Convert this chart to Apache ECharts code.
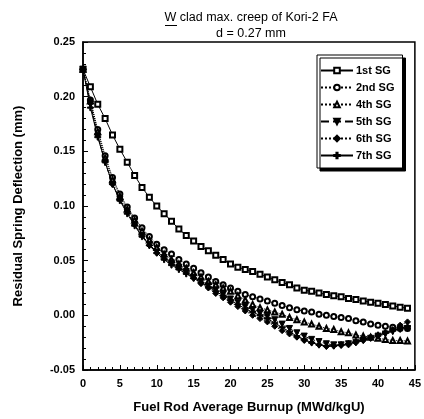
<!DOCTYPE html>
<html>
<head>
  <meta charset="utf-8" />
  <title>Residual spring deflection</title>
  <script src="https://cdn.jsdelivr.net/npm/echarts@6/dist/echarts.min.js"></script>
</head>
<style>
  html, body { margin: 0; padding: 0; background: #fff; }
  #chart { width: 424px; height: 419px; }
</style>
<body>
  <div id="chart"></div>
  <script>
    // burnup points (MWd/kgU), shared by all springs
    var burnup = [0,1,2,3,4,5,6,7,8,9,10,11,12,13,14,15,16,17,18,19,20,21,22,
      23,24,25,26,27,28,29,30,31,32,33,34,35,36,37,38,39,40,41,42,43,44];

    // residual spring deflection (mm)
    var sg1 = [0.225,0.209,0.193,0.180,0.165,0.152,0.140,0.128,0.117,0.108,0.100,0.093,0.086,0.079,0.073,
      0.068,0.063,0.059,0.055,0.051,0.047,0.044,0.042,0.040,0.0375,0.035,0.0325,0.030,0.028,0.025,
      0.023,0.022,0.0205,0.019,0.018,0.017,0.0155,0.0145,0.013,0.012,0.011,0.0098,0.0086,0.0075,0.0064];
    var sg2 = [0.225,0.197,0.170,0.146,0.126,0.111,0.099,0.089,0.080,0.072,0.065,0.060,0.056,0.051,0.047,
      0.043,0.039,0.035,0.031,0.028,0.025,0.022,0.019,0.017,0.015,0.013,0.011,0.009,0.007,0.005,
      0.004,0.003,0.001,0.000,-0.001,-0.002,-0.003,-0.005,-0.006,-0.008,-0.009,-0.010,-0.011,-0.012,-0.012];
    var sg4 = [0.225,0.196,0.168,0.144,0.124,0.109,0.097,0.087,0.077,0.069,0.062,0.056,0.051,0.047,0.043,
      0.039,0.035,0.031,0.028,0.025,0.022,0.018,0.014,0.010,0.007,0.005,0.003,0.001,-0.002,-0.004,
      -0.006,-0.008,-0.010,-0.012,-0.013,-0.015,-0.016,-0.018,-0.019,-0.020,-0.021,-0.022,-0.023,-0.023,-0.0235];
    var sg5 = [0.225,0.193,0.164,0.140,0.120,0.106,0.094,0.083,0.073,0.065,0.058,0.053,0.048,0.044,0.040,
      0.035,0.031,0.027,0.023,0.019,0.015,0.012,0.008,0.005,0.002,-0.001,-0.004,-0.008,-0.012,-0.016,
      -0.019,-0.022,-0.024,-0.026,-0.027,-0.027,-0.026,-0.025,-0.023,-0.021,-0.019,-0.017,-0.015,-0.013,-0.012];
    var sg6 = [0.225,0.194,0.165,0.141,0.120,0.106,0.095,0.083,0.073,0.064,0.057,0.052,0.047,0.043,0.039,
      0.034,0.029,0.025,0.020,0.016,0.012,0.008,0.004,0.000,-0.003,-0.006,-0.010,-0.014,-0.017,-0.020,
      -0.023,-0.025,-0.027,-0.0285,-0.028,-0.0275,-0.027,-0.025,-0.023,-0.021,-0.019,-0.016,-0.013,-0.009,-0.006];
    var sg7 = [0.225,0.190,0.163,0.140,0.120,0.105,0.093,0.082,0.072,0.064,0.057,0.051,0.046,0.042,0.038,
      0.034,0.030,0.026,0.022,0.018,0.014,0.010,0.006,0.003,0.000,-0.003,-0.007,-0.011,-0.015,-0.019,
      -0.022,-0.025,-0.027,-0.028,-0.028,-0.027,-0.026,-0.024,-0.022,-0.020,-0.018,-0.016,-0.014,-0.012,-0.010];

    var seriesNames = ['1st SG', '2nd SG', '4th SG', '5th SG', '6th SG', '7th SG'];
    var xTicks = [0, 5, 10, 15, 20, 25, 30, 35, 40, 45];

    function pairs(ys) {
      return burnup.map(function (x, i) { return [x, ys[i]]; });
    }

    var plusPath = 'path://M4,0h2v4h4v2h-4v4h-2v-4h-4v-2h4z';

    var styles = [
      { data: sg1, symbol: 'emptyRect', size: 5, line: 'solid' },
      { data: sg2, symbol: 'emptyCircle', size: 5, line: 'dotted' },
      { data: sg4, symbol: 'emptyTriangle', size: 5, line: 'dotted' },
      { data: sg5, symbol: 'triangle', size: 6, line: 'dashed', rotate: 180 },
      { data: sg6, symbol: 'diamond', size: 6, line: 'dotted' },
      { data: sg7, symbol: plusPath, size: 6, line: 'solid' }
    ];

    var myChart = echarts.init(document.getElementById('chart'), null, { renderer: 'canvas' });
    var font = 'Liberation Sans, Arial, sans-serif';

    myChart.setOption({
      animation: false,
      backgroundColor: '#fff',
      textStyle: { fontFamily: font, color: '#000' },
      graphic: [{
        type: 'text',
        x: 251, y: 10,
        style: {
          text: 'W clad max. creep of Kori-2 FA\nd = 0.27 mm',
          align: 'center',
          lineHeight: 16,
          font: '12.5px ' + font,
          fill: '#000'
        }
      }, {
        type: 'line',
        shape: { x1: 165, y1: 25.5, x2: 177, y2: 25.5 },
        style: { stroke: '#000', lineWidth: 1 }
      }],
      legend: {
        data: seriesNames,
        orient: 'vertical',
        left: 317,
        top: 55,
        itemWidth: 32,
        itemHeight: 7,
        itemGap: 6,
        padding: [10, 8, 7, 3],
        backgroundColor: '#fff',
        borderColor: '#000',
        borderWidth: 1,
        shadowColor: '#000',
        shadowBlur: 0,
        shadowOffsetX: 3,
        shadowOffsetY: 3,
        textStyle: { fontSize: 11, fontWeight: 'bold', color: '#000', fontFamily: font, padding: [0, 0, 0, -2] }
      },
      grid: {
        left: 83, right: 7, top: 42, bottom: 47,
        show: true,
        borderColor: '#000',
        borderWidth: 1.5,
        backgroundColor: 'transparent'
      },
      xAxis: {
        type: 'value',
        min: 0, max: 45, interval: 5,
        name: 'Fuel Rod Average Burnup (MWd/kgU)',
        nameLocation: 'middle',
        nameGap: 31,
        nameTextStyle: { fontSize: 13, fontWeight: 'bold', color: '#000', fontFamily: font },
        axisLine: { onZero: false, lineStyle: { color: '#000', width: 1.5 } },
        axisTick: { inside: true, length: 5, lineStyle: { color: '#000' } },
        minorTick: { show: true, splitNumber: 5, length: 3, lineStyle: { color: '#000' } },
        splitLine: { show: false },
        axisLabel: {
          margin: 8, fontSize: 11, fontWeight: 'bold', color: '#000', fontFamily: font,
          formatter: function (v) { return xTicks.indexOf(v) >= 0 ? String(v) : ''; }
        }
      },
      yAxis: {
        type: 'value',
        min: -0.05, max: 0.25, interval: 0.05,
        name: 'Residual Spring Deflection (mm)',
        nameLocation: 'middle',
        nameGap: 58,
        nameTextStyle: { fontSize: 13, fontWeight: 'bold', color: '#000', fontFamily: font },
        axisLine: { onZero: false, lineStyle: { color: '#000', width: 1.5 } },
        axisTick: { inside: true, length: 5, lineStyle: { color: '#000' } },
        minorTick: { show: true, splitNumber: 5, length: 3, lineStyle: { color: '#000' } },
        splitLine: { show: false },
        axisLabel: {
          margin: 8, fontSize: 11, fontWeight: 'bold', color: '#000', fontFamily: font,
          formatter: function (v) { return v.toFixed(2); }
        }
      },
      series: styles.map(function (s, i) {
        return {
          name: seriesNames[i],
          type: 'line',
          data: pairs(s.data),
          symbol: s.symbol,
          symbolSize: s.size,
          symbolRotate: s.rotate || 0,
          showAllSymbol: true,
          lineStyle: { color: '#000', width: 1, type: s.line },
          itemStyle: { color: '#000', borderColor: '#000', borderWidth: 1 },
          clip: false
        };
      })
    });
  </script>
</body>
</html>
